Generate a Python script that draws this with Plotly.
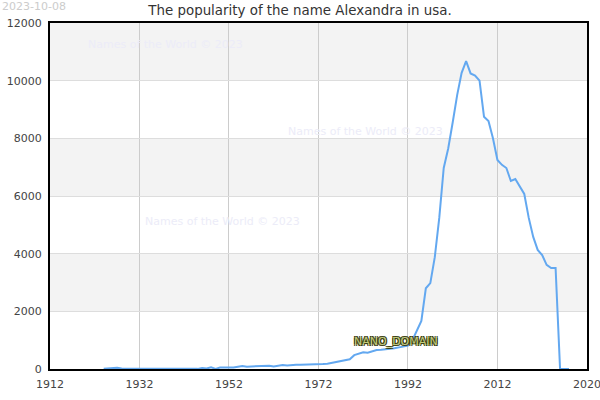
import plotly.graph_objects as go

years = list(range(1924, 2029))
counts = [
    5, 10, 25, 45, 15, 5,                      # 1924-1929
    5, 5, 5, 5, 5, 5, 5, 5, 5, 5,              # 1930-1939
    5, 5, 5, 5, 5, 5, 35, 15, 60, 5,           # 1940-1949
    50, 50, 55, 55, 80, 105, 80, 85, 115, 115, # 1950-1959
    115, 115, 85, 120, 140, 125, 150, 150, 150, 150,  # 1960-1969
    160, 175, 175, 175, 185, 215, 250, 280, 300, 340, # 1970-1979
    480, 530, 580, 565, 610, 655, 665, 675, 685, 720, # 1980-1989
    750, 780, 810, 1000, 1350, 1665, 2800, 2980, 3880, 5240,  # 1990-1999
    6970, 7650, 8550, 9500, 10270, 10680, 10250, 10180, 10000, 8750,  # 2000-2009
    8600, 8000, 7250, 7080, 6970, 6520, 6590, 6310, 6070, 5240,  # 2010-2019
    4580, 4130, 3950, 3610, 3500, 3500, 0, 0, 0,  # 2020-2028
]

x_tick_vals = [1912, 1932, 1952, 1972, 1992, 2012, 2032]
x_tick_text = ["1912", "1932", "1952", "1972", "1992", "2012", "2020"]
y_tick_vals = [0, 2000, 4000, 6000, 8000, 10000, 12000]
y_tick_text = ["0", "2000", "4000", "6000", "8000", "10000", "12000"]

title_text = "The popularity of the name Alexandra in usa."
date_text = "2023-10-08"
watermark = "Names of the World © 2023"

FONT = "DejaVu Sans"

fig = go.Figure()
fig.add_trace(go.Scatter(
    x=years, y=counts, mode="lines",
    line=dict(color="#63a8f0", width=2),
    hoverinfo="x+y", showlegend=False,
))

# alternating bands
shapes = []
for i in range(len(y_tick_vals) - 1):
    if i % 2 == 1:
        shapes.append(dict(
            type="rect", xref="paper", yref="y", x0=0, x1=1,
            y0=y_tick_vals[i], y1=y_tick_vals[i + 1],
            fillcolor="#f3f3f3", line=dict(width=0), layer="below",
        ))

annotations = [
    dict(text=date_text, xref="paper", yref="paper", x=-0.093, y=1.049,
         xanchor="left", yanchor="middle", showarrow=False,
         font=dict(family=FONT, size=11, color="#cccccc")),
    dict(text=watermark, xref="paper", yref="paper", x=(165 - 50) / 537, y=(369 - 44) / 346,
         xanchor="center", yanchor="middle", showarrow=False,
         font=dict(family=FONT, size=11, color="#ececf8")),
    dict(text=watermark, xref="paper", yref="paper", x=(365 - 50) / 537, y=(369 - 131) / 346,
         xanchor="center", yanchor="middle", showarrow=False,
         font=dict(family=FONT, size=11, color="#ececf8")),
    dict(text=watermark, xref="paper", yref="paper", x=(222 - 50) / 537, y=(369 - 221) / 346,
         xanchor="center", yanchor="middle", showarrow=False,
         font=dict(family=FONT, size=11, color="#ececf8")),
    dict(text="NANO_DOMAIN", xref="paper", yref="paper", x=(396 - 50) / 537, y=(369 - 341) / 346,
         xanchor="center", yanchor="middle", showarrow=False,
         font=dict(family=FONT, size=11, color="#c4cc7c",
                   shadow="-1px -1px 0 #3a4010, 1px -1px 0 #3a4010, -1px 1px 0 #3a4010, 1px 1px 0 #3a4010")),
]

fig.update_layout(
    width=600, height=400,
    margin=dict(l=50, r=13, t=23, b=31, autoexpand=False),
    paper_bgcolor="white", plot_bgcolor="white",
    title=dict(text=title_text, x=0.5, xanchor="center", y=0.975, yanchor="middle",
               yref="container", font=dict(family=FONT, size=13.4, color="#333333")),
    font=dict(family=FONT, size=10, color="#333333"),
    shapes=shapes,
    annotations=annotations,
    xaxis=dict(range=[1912, 2032.02], tickvals=x_tick_vals, ticktext=x_tick_text,
               showgrid=True, gridcolor="#cccccc", gridwidth=1,
               showline=True, linecolor="#000000", linewidth=2, mirror=True,
               zeroline=False, ticks="", ticklabelstandoff=4, ticklabeloverflow="allow",
               tickfont=dict(family=FONT, size=11, color="#444444"),
               fixedrange=True),
    yaxis=dict(range=[0, 12000], tickvals=y_tick_vals, ticktext=y_tick_text,
               showgrid=True, gridcolor="#dddddd", gridwidth=1,
               showline=True, linecolor="#000000", linewidth=2, mirror=True,
               zeroline=False, ticks="", ticklabelstandoff=4,
               tickfont=dict(family=FONT, size=11, color="#444444"),
               fixedrange=True),
)

fig.write_html("out.html", config={"displayModeBar": False},
               post_script="document.body.style.margin='0';document.body.style.padding='0';")
